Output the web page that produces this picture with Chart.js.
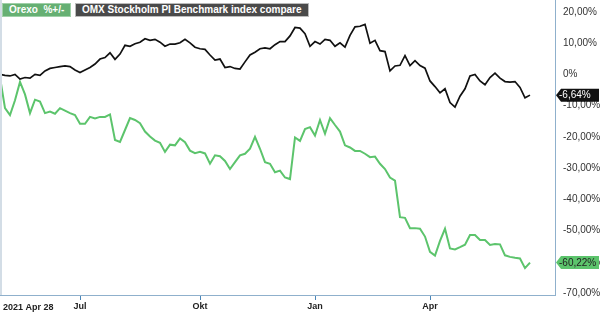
<!DOCTYPE html>
<html>
<head>
<meta charset="utf-8">
<script src="https://cdn.jsdelivr.net/npm/chart.js@4"></script>
<style>
  body { margin: 0; background: #fff; }
  #wrap { position: relative; width: 600px; height: 313px; }
  .badge { position: absolute; top: 3px; height: 14px; line-height: 14px; font: bold 10px Arial, "Liberation Sans", sans-serif; color: #fff; padding: 0 6px; box-sizing: border-box; white-space: pre; }
</style>
</head>
<body>
<div id="wrap">
  <canvas id="chart" width="600" height="313"></canvas>
  <div class="badge" id="leg0" style="left:2px; background:#66b073; border:1px solid #9fd0a8;"></div>
  <div class="badge" id="leg1" style="left:75px; background:#4a4a4a; border:1px solid #bbb;"></div>
</div>
<script>
// series names
const seriesNames = ['Orexo  %+/-', 'OMX Stockholm PI Benchmark index compare'];

// % change since start, one value per sample step
const orexo = [
  -1.0, -10.8, -13.0, -8.3, -2.4, -6.4, -12.4, -8.1, -8.7, -12.4,
  -11.9, -12.6, -10.8, -11.6, -12.4, -13.0, -15.8, -15.8, -13.6, -14.1,
  -13.6, -13.6, -12.8, -21.0, -21.6, -17.8, -14.0, -14.6, -15.6, -18.3,
  -19.9, -21.2, -21.9, -24.8, -22.5, -22.7, -20.5, -21.7, -24.4, -25.2,
  -24.8, -25.3, -28.6, -25.9, -26.2, -27.7, -30.3, -28.1, -25.9, -25.4,
  -23.8, -20.0, -23.8, -28.1, -28.6, -31.3, -30.8, -33.0, -33.5, -20.2,
  -21.3, -17.5, -16.9, -19.6, -14.6, -19.0, -14.0, -16.2, -18.3, -22.7,
  -23.4, -24.5, -24.5, -25.4, -26.5, -26.3, -28.6, -30.3, -33.0, -34.0,
  -45.7, -45.9, -49.2, -49.2, -49.4, -51.9, -56.8, -58.0, -53.3, -49.4,
  -55.7, -56.0, -55.3, -54.5, -51.4, -51.4, -53.0, -53.0, -54.6, -54.3,
  -54.4, -57.9, -58.4, -58.7, -58.9, -62.0, -60.22
];
const omx = [
  0.0, -0.3, -0.5, 0.0, -1.5, -1.0, -1.2, 0.0, -0.3, 1.1,
  1.9, 2.2, 2.5, 2.7, 2.5, 1.4, 0.6, 1.4, 2.2, 3.3,
  4.9, 5.4, 6.9, 4.8, 6.5, 9.3, 9.0, 9.8, 10.3, 11.4,
  10.9, 11.2, 10.3, 9.0, 9.7, 9.7, 10.1, 11.2, 10.1, 8.7,
  8.2, 8.0, 6.2, 4.6, 4.9, 2.2, 2.5, 1.9, 1.7, 4.0,
  6.2, 7.1, 8.2, 8.5, 8.2, 9.5, 10.5, 10.5, 12.3, 15.0,
  14.8, 13.0, 9.0, 10.5, 9.7, 11.2, 10.9, 9.0, 10.1, 8.7,
  12.5, 15.2, 15.4, 16.0, 10.0, 10.9, 7.6, 7.3, 1.1, 2.7,
  2.9, 6.0, 2.8, 4.4, 2.8, 2.0, -2.1, -3.9, -5.9, -4.6,
  -9.0, -10.5, -7.0, -4.6, -0.5, 0.0, -2.1, -3.3, -1.0, 0.4,
  -1.2, -2.3, -2.5, -2.3, -4.2, -7.5, -6.64
];

// x axis: month ticks at sample steps
const xTickSteps = [16, 40, 63, 86];
const xTickLabels = ['Jul', 'Okt', 'Jan', 'Apr'];
const startLabel = '2021 Apr 28';
const yTicks = [20, 10, 0, -10, -20, -30, -40, -50, -60, -70];

const green = '#5cc46c';
const black = '#111111';

document.getElementById('leg0').textContent = seriesNames[0];
document.getElementById('leg1').textContent = seriesNames[1];

const fmt = v => v.toFixed(2).replace('.', ',') + '%';

const extras = {
  id: 'extras',
  afterDraw(chart) {
    const ctx = chart.ctx;
    const area = chart.chartArea;
    const y = chart.scales.y;
    ctx.save();
    // faint left edge
    ctx.strokeStyle = '#d3dde6';
    ctx.lineWidth = 2;
    ctx.beginPath();
    ctx.moveTo(area.left + 1, area.top);
    ctx.lineTo(area.left + 1, area.bottom);
    ctx.stroke();

    // start date label
    ctx.font = 'bold 9px Arial, "Liberation Sans", sans-serif';
    ctx.fillStyle = '#222';
    ctx.textBaseline = 'middle';
    ctx.textAlign = 'left';
    ctx.fillText(startLabel, area.left + 3, area.bottom + 13);

    // last value tags
    const tag = (val, bg, fg) => {
      const py = y.getPixelForValue(val);
      const tip = area.right + 1, h = 13;
      ctx.fillStyle = bg;
      ctx.beginPath();
      ctx.moveTo(tip, py);
      ctx.lineTo(tip + 5, py - h / 2);
      ctx.lineTo(chart.width - 1, py - h / 2);
      ctx.lineTo(chart.width - 1, py + h / 2);
      ctx.lineTo(tip + 5, py + h / 2);
      ctx.closePath();
      ctx.fill();
      ctx.font = '10px Arial, "Liberation Sans", sans-serif';
      ctx.fillStyle = fg;
      ctx.textAlign = 'left';
      ctx.fillText(fmt(val), tip + 3, py + 0.5);
    };
    tag(omx[omx.length - 1], '#111', '#fff');
    tag(orexo[orexo.length - 1], green, '#222');
    ctx.restore();
  }
};

new Chart(document.getElementById('chart'), {
  type: 'line',
  data: {
    datasets: [
      {
        label: seriesNames[1],
        data: omx.map((v, i) => ({ x: i, y: v })),
        borderColor: black,
        borderWidth: 1.7,
        pointRadius: 0,
        tension: 0
      },
      {
        label: seriesNames[0],
        data: orexo.map((v, i) => ({ x: i, y: v })),
        borderColor: green,
        borderWidth: 2,
        pointRadius: 0,
        tension: 0
      }
    ]
  },
  options: {
    responsive: false,
    animation: false,
    layout: { padding: 0 },
    plugins: {
      legend: { display: false },
      tooltip: { enabled: false }
    },
    scales: {
      x: {
        type: 'linear',
        min: 0,
        max: 111,
        afterBuildTicks: s => { s.ticks = xTickSteps.map(v => ({ value: v })); },
        afterFit: s => { s.height = 18; s.paddingLeft = 0; s.paddingRight = 0; },
        ticks: {
          autoSkip: false,
          maxRotation: 0,
          padding: 1,
          color: '#222',
          font: { family: 'Arial', size: 9, weight: 'bold' },
          callback: (v, i) => xTickLabels[i]
        },
        grid: { drawOnChartArea: false, drawTicks: true, tickLength: 5, tickColor: '#4a86b8' },
        border: { color: '#8fb0cc' }
      },
      y: {
        position: 'right',
        min: -70.6,
        max: 23.8,
        afterBuildTicks: s => { s.ticks = yTicks.map(v => ({ value: v })); },
        afterFit: s => { s.width = 45; s.paddingTop = 0; s.paddingBottom = 0; },
        ticks: {
          padding: 8,
          color: '#333',
          font: { family: 'Arial', size: 10 },
          callback: v => v === 0 ? '0%' : fmt(v)
        },
        grid: { drawOnChartArea: false, drawTicks: false },
        border: { color: '#8fb0cc' }
      }
    }
  },
  plugins: [extras]
});
</script>
</body>
</html>
